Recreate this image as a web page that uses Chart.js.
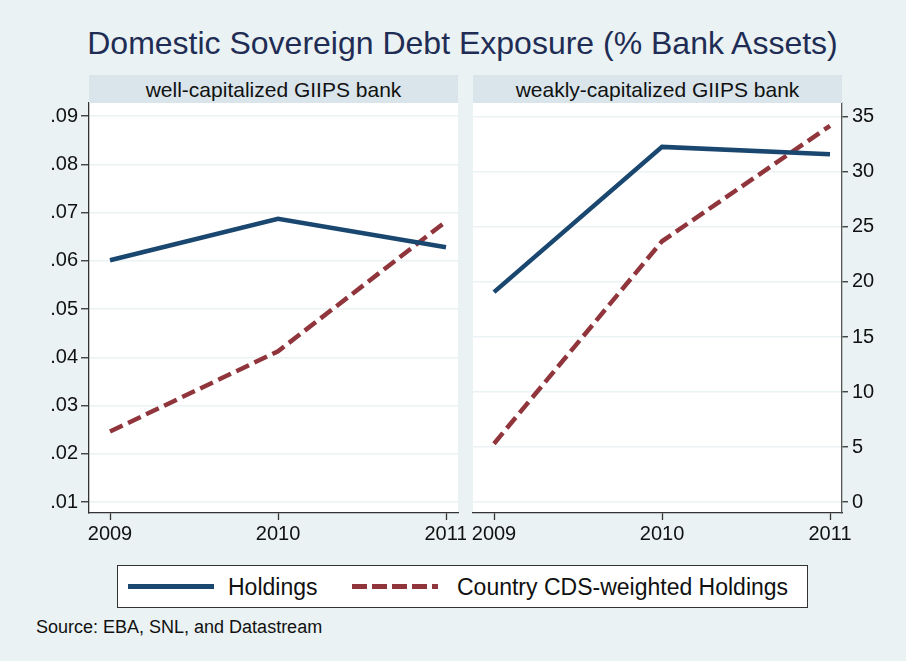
<!DOCTYPE html>
<html>
<head>
<meta charset="utf-8">
<script src="https://cdn.jsdelivr.net/npm/chart.js@4/dist/chart.umd.min.js"></script>
<style>
  html, body { margin: 0; padding: 0; }
  body {
    width: 906px; height: 661px; position: relative; overflow: hidden;
    background: #eaf2f3; font-family: "Liberation Sans", Arial, sans-serif;
  }
  .abs { position: absolute; }
  #title { left: 0; width: 925px; top: 27px; text-align: center; font-size: 32px; line-height: 32px; color: #1f2d55; white-space: nowrap; }
  .strip { top: 75px; height: 28px; background: #d9e5ea; text-align: center; font-size: 21px; line-height: 29px; color: #111; }
  #legend { left: 117px; top: 565px; width: 689px; height: 41px; background: #fff; border: 1.5px solid #333; }
  .lg-text { font-size: 23px; line-height: 23px; color: #111; white-space: nowrap; }
  #source { left: 36px; top: 618px; font-size: 18px; line-height: 18px; color: #111; white-space: nowrap; }
</style>
</head>
<body>
<canvas id="wellChart" class="abs" style="left:0;top:95px" width="466" height="450"></canvas>
<canvas id="weakChart" class="abs" style="left:466px;top:95px" width="440" height="450"></canvas>

<div id="title" class="abs">Domestic Sovereign Debt Exposure (% Bank Assets)</div>
<div class="abs strip" style="left:89px;width:369px">well-capitalized GIIPS bank</div>
<div class="abs strip" style="left:473px;width:369px">weakly-capitalized GIIPS bank</div>

<div id="legend" class="abs">
  <div class="abs" style="left:10px;top:18px;width:86px;height:5px;background:#1a476f"></div>
  <div class="abs lg-text" style="left:110px;top:10px">Holdings</div>
  <div class="abs" style="left:234px;top:18px;width:86px;height:5px;background:repeating-linear-gradient(90deg,#90353b 0 15px,transparent 15px 20px)"></div>
  <div class="abs lg-text" style="left:339px;top:10px">Country CDS-weighted Holdings</div>
</div>
<div id="source" class="abs">Source: EBA, SNL, and Datastream</div>

<script>
const years = [2009, 2010, 2011];
const panels = ["well-capitalized GIIPS bank", "weakly-capitalized GIIPS bank"];
const seriesNames = ["Holdings", "Country CDS-weighted Holdings"];

// well-capitalized: holdings on left axis, CDS-weighted on right axis
const wellHoldings = [0.0601, 0.0687, 0.0628];
const wellCdsWeighted = [6.4, 13.7, 25.5];

// weakly-capitalized
const weakHoldings = [0.0535, 0.0836, 0.0821];
const weakCdsWeighted = [5.3, 23.7, 34.2];

const leftTicks = [0.01, 0.02, 0.03, 0.04, 0.05, 0.06, 0.07, 0.08, 0.09];
const rightTicks = [0, 5, 10, 15, 20, 25, 30, 35];

const BLUE = "#1a476f", RED = "#90353b", AXIS = "#333", GRID = "#eaf2f3";
const tickFont = { family: "'Liberation Sans', Arial, sans-serif", size: 20 };

const pts = (vals) => vals.map((v, i) => ({ x: years[i], y: v }));

// white plot region
const plotBg = {
  id: "plotBg",
  beforeDraw(chart) {
    const a = chart.chartArea, ctx = chart.ctx;
    ctx.save();
    ctx.fillStyle = "#fff";
    ctx.fillRect(a.left, a.top, a.right - a.left, a.bottom - a.top);
    ctx.restore();
  }
};

// fixed axis box sizes, no extra label padding
const fixBox = (w, h) => s => {
  if (w !== null) s.width = w;
  if (h !== null) s.height = h;
  s.paddingTop = 0; s.paddingBottom = 0; s.paddingLeft = 0; s.paddingRight = 0;
};

function makeChart(id, holdings, cds, side) {
  const showLeft = side === "left";
  return new Chart(document.getElementById(id), {
    type: "line",
    plugins: [plotBg],
    data: {
      datasets: [
        { label: seriesNames[0], data: pts(holdings), yAxisID: "y",
          borderColor: BLUE, borderWidth: 4.5, pointRadius: 0, tension: 0 },
        { label: seriesNames[1], data: pts(cds), yAxisID: "y2",
          borderColor: RED, borderWidth: 4.5, borderDash: [14, 6], pointRadius: 0, tension: 0 }
      ]
    },
    options: {
      responsive: false,
      animation: false,
      events: [],
      layout: {
        autoPadding: false,
        padding: showLeft ? { top: 8, right: 8, left: 0, bottom: 0 } : { top: 8, right: 0, left: 7, bottom: 0 }
      },
      plugins: { legend: { display: false }, tooltip: { enabled: false } },
      scales: {
        x: {
          type: "linear", min: 2008.875, max: 2011.0714,
          afterBuildTicks: s => { s.ticks = years.map(v => ({ value: v })); },
          afterFit: fixBox(null, 32),
          grid: { color: "rgba(0,0,0,0)", tickColor: AXIS, tickLength: 7, tickWidth: 1.3 },
          border: { color: AXIS, width: 1.3 },
          ticks: { color: "#111", font: tickFont, padding: 2, maxRotation: 0,
                   callback: v => String(v) }
        },
        y: {
          display: showLeft, position: "left",
          min: 0.00772, max: 0.0927,
          afterBuildTicks: s => { s.ticks = leftTicks.map(v => ({ value: v })); },
          afterFit: fixBox(showLeft ? 89 : 0, null),
          grid: { color: GRID, lineWidth: 1.5, tickColor: AXIS, tickLength: 8, tickWidth: 1.3 },
          border: { color: AXIS, width: 1.3 },
          ticks: { color: "#111", font: tickFont, padding: 3,
                   callback: v => v.toFixed(2).replace(/^0/, "") }
        },
        y2: {
          display: !showLeft, position: "right",
          min: -1.0, max: 36.27,
          afterBuildTicks: s => { s.ticks = rightTicks.map(v => ({ value: v })); },
          afterFit: fixBox(showLeft ? 0 : 64, null),
          grid: { color: GRID, lineWidth: 1.5, tickColor: AXIS, tickLength: 6, tickWidth: 1.3 },
          border: { color: "#555", width: 1.3 },
          ticks: { color: "#111", font: tickFont, padding: 4, callback: v => String(v) }
        }
      }
    }
  });
}

makeChart("wellChart", wellHoldings, wellCdsWeighted, "left");
makeChart("weakChart", weakHoldings, weakCdsWeighted, "right");
</script>
</body>
</html>
